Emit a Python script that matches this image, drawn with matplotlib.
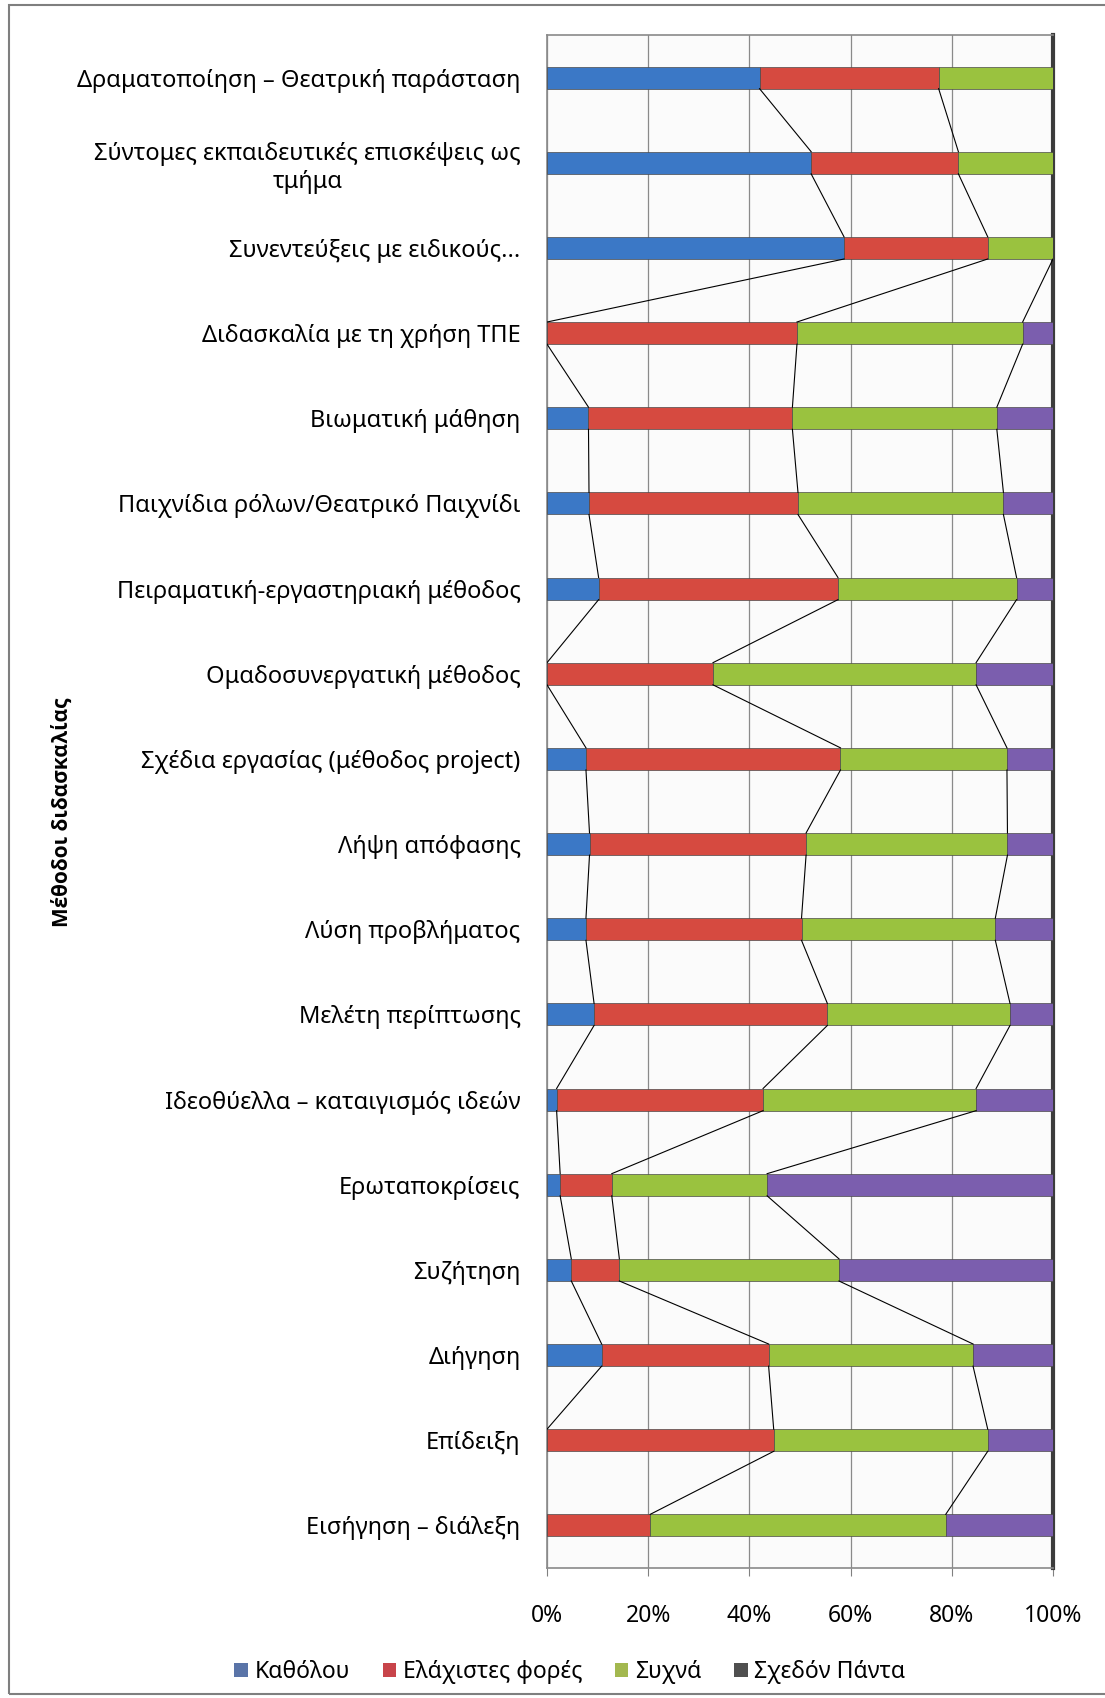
import numpy as np
import matplotlib.pyplot as plt
from matplotlib.patches import Rectangle, Patch

plt.rcParams['font.family'] = ['Noto Sans', 'DejaVu Sans']

methods = [
    'Δραματοποίηση – Θεατρική παράσταση',
    'Σύντομες εκπαιδευτικές επισκέψεις ως\nτμήμα',
    'Συνεντεύξεις με ειδικούς...',
    'Διδασκαλία με τη χρήση ΤΠΕ',
    'Βιωματική μάθηση',
    'Παιχνίδια ρόλων/Θεατρικό Παιχνίδι',
    'Πειραματική-εργαστηριακή μέθοδος',
    'Ομαδοσυνεργατική μέθοδος',
    'Σχέδια εργασίας (μέθοδος project)',
    'Λήψη απόφασης',
    'Λύση προβλήματος',
    'Μελέτη περίπτωσης',
    'Ιδεοθύελλα – καταιγισμός ιδεών',
    'Ερωταποκρίσεις',
    'Συζήτηση',
    'Διήγηση',
    'Επίδειξη',
    'Εισήγηση – διάλεξη',
]

# percentages per answer, same order as methods
never = [42.0, 52.2, 58.7, 0.0, 8.2, 8.3, 10.2, 0.0, 7.7, 8.4, 7.7, 9.3, 1.9, 2.6, 4.8, 10.8, 0.0, 0.0]
rarely = [35.4, 29.1, 28.4, 49.4, 40.3, 41.3, 47.3, 32.8, 50.3, 42.8, 42.6, 46.1, 40.8, 10.2, 9.5, 33.0, 44.8, 20.4]
often = [22.6, 18.7, 12.9, 44.6, 40.4, 40.6, 35.3, 52.0, 32.9, 39.8, 38.3, 36.1, 42.1, 30.7, 43.4, 40.4, 42.3, 58.4]
always = [0.0, 0.0, 0.0, 6.0, 11.1, 9.8, 7.2, 15.2, 9.1, 9.0, 11.4, 8.5, 15.2, 56.5, 42.3, 15.8, 12.9, 21.2]

series = [never, rarely, often, always]
series_names = ['Καθόλου', 'Ελάχιστες φορές', 'Συχνά', 'Σχεδόν Πάντα']
bar_colors = ['#3b78c6', '#d64a40', '#9ac23f', '#7b5eae']
legend_colors = ['#5a74a8', '#c8444a', '#a3b84f', '#4f4f4f']

fig = plt.figure(figsize=(11.05, 16.98), dpi=100)
W, H = 1105, 1698
ax = fig.add_axes([547 / W, 1 - 1568 / H, (1053 - 547) / W, (1568 - 35) / H])
ax.set_facecolor('#fbfbfb')

y = np.arange(len(methods))
bh = 0.26
left = np.zeros(len(methods))
for vals, col in zip(series, bar_colors):
    v = np.array(vals)
    ax.barh(y, v, left=left, height=bh, color=col, edgecolor='#4a4a4a',
            linewidth=0.5, zorder=3)
    left = left + v

# series lines between neighbouring bars (skip ones lying on the frame)
cum = np.cumsum(np.array(series), axis=0)
for k in range(3):
    for i in range(len(methods) - 1):
        a, b = cum[k][i], cum[k][i + 1]
        if a == b and a in (0, 100):
            continue
        ax.plot([a, b], [y[i] + bh / 2, y[i + 1] - bh / 2],
                color='black', lw=0.8, zorder=4)

ax.set_xlim(0, 100)
ax.set_ylim(len(methods) - 0.5, -0.5)
ax.set_xticks([0, 20, 40, 60, 80, 100])
ax.set_xticklabels([f'{t}%' for t in [0, 20, 40, 60, 80, 100]], fontsize=16.5)
ax.tick_params(axis='x', length=6, color='#808080', pad=20)
ax.set_yticks(y)
ax.set_yticklabels(methods, fontsize=17, multialignment='center', linespacing=1.25)
ax.tick_params(axis='y', length=0, pad=19)
ax.xaxis.grid(True, color='#8a8a8a', lw=0.9, zorder=0)
ax.set_axisbelow(True)
for s in ['left', 'top', 'bottom']:
    ax.spines[s].set_color('#8a8a8a')
    ax.spines[s].set_linewidth(1.2)
ax.spines['right'].set_color('#3c3c3c')
ax.spines['right'].set_linewidth(3)

fig.text(62 / W, 1 - 812 / H, 'Μέθοδοι διδασκαλίας', rotation=90,
         ha='center', va='center', fontsize=15, fontweight='bold',
         family=['Open Sans', 'DejaVu Sans'])

handles = [Patch(facecolor=c, edgecolor='none') for c in legend_colors]
fig.legend(handles, series_names, loc='center', bbox_to_anchor=(570 / W, 1 - 1672 / H),
           ncol=4, frameon=False, fontsize=16.5, handlelength=0.6, handleheight=0.6,
           handletextpad=0.3, columnspacing=1.4)

# outer chart border
fig.patches.append(Rectangle((9 / W, 1 - 1694 / H), 1.2, (1694 - 5) / H,
                             transform=fig.transFigure, fill=False,
                             edgecolor='#7f7f7f', lw=1.5))

fig.savefig('out.png', dpi=100)
